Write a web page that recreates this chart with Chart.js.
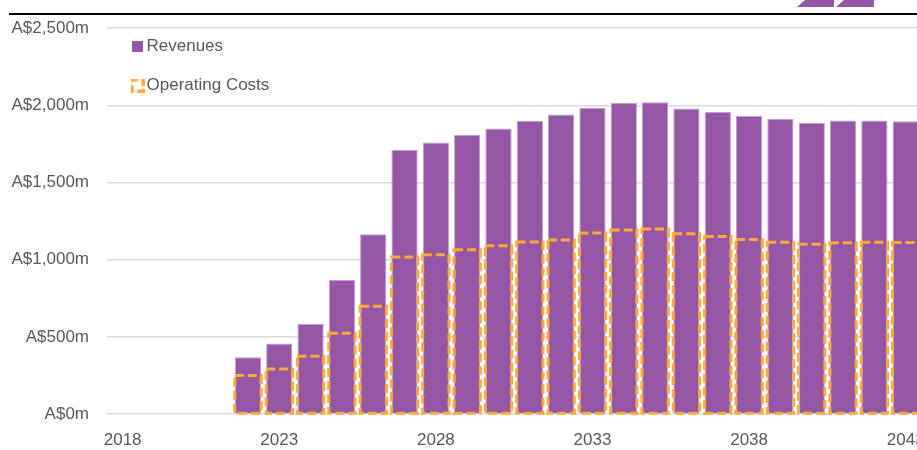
<!DOCTYPE html>
<html>
<head>
<meta charset="utf-8">
<script src="https://cdn.jsdelivr.net/npm/chart.js@4.4.1/dist/chart.umd.min.js"></script>
<style>
  html, body { margin: 0; padding: 0; background: #fff; width: 917px; height: 450px; overflow: hidden; }
  #wrap { position: absolute; left: 0; top: 0; width: 1000px; height: 450px; }
</style>
</head>
<body>
<div id="wrap"><canvas id="c" width="1000" height="450"></canvas></div>
<script>
// ---- data ----
const years = ['2018','2019','2020','2021','2022','2023','2024','2025','2026','2027','2028','2029','2030','2031',
               '2032','2033','2034','2035','2036','2037','2038','2039','2040','2041','2042','2043','2044','2045'];
const revenues = [null, null, null, null, 367, 457, 585, 870, 1165, 1710, 1760, 1810, 1850, 1900,
                  1940, 1985, 2015, 2020, 1980, 1957, 1932, 1912, 1885, 1902, 1902, 1897, null, null];
const operatingCosts = [null, null, null, null, 250, 292, 374, 524, 698, 1018, 1032, 1065, 1090, 1115,
                        1128, 1173, 1193, 1198, 1168, 1151, 1131, 1113, 1100, 1110, 1113, 1111, null, null];
const xTickLabels = ['2018','2023','2028','2033','2038','2043'];
const yTickValues = [0, 500, 1000, 1500, 2000, 2500];
const seriesNames = ['Revenues', 'Operating Costs'];

// ---- styles ----
const PURPLE = '#9656a6';
const ORANGE = '#fbaa36';
const TEXT = '#595959';
const FONT = "'Liberation Sans', Arial, sans-serif";

// legend icons
const revIcon = document.createElement('canvas');
revIcon.width = 11; revIcon.height = 11;
(function(){ const g = revIcon.getContext('2d'); g.fillStyle = PURPLE; g.fillRect(0,0,11,11); })();
const costIcon = document.createElement('canvas');
costIcon.width = 14; costIcon.height = 14;
(function(){ const g = costIcon.getContext('2d'); g.strokeStyle = ORANGE; g.lineWidth = 3; g.setLineDash([8,3]); g.lineDashOffset = 2; g.strokeRect(1.5,1.5,11,11); })();

const dashedBars = {
  id: 'dashedBars',
  afterDatasetsDraw(chart) {
    const meta = chart.getDatasetMeta(1);
    const ctx = chart.ctx;
    ctx.save();
    ctx.strokeStyle = ORANGE;
    ctx.lineWidth = 3;
    ctx.setLineDash([9, 4]);
    meta.data.forEach((el, i) => {
      if (operatingCosts[i] == null) return;
      const p = el.getProps(['x', 'y', 'base', 'width'], true);
      ctx.strokeRect(p.x - p.width / 2, p.y, p.width, p.base - p.y);
    });
    ctx.restore();
  }
};

const decor = {
  id: 'decor',
  afterDraw(chart) {
    const ctx = chart.ctx;
    ctx.save();
    ctx.fillStyle = '#000';
    ctx.fillRect(9, 13, 1000, 2);
    ctx.fillStyle = PURPLE;
    ctx.beginPath();
    ctx.moveTo(805, 0); ctx.lineTo(834, 0); ctx.lineTo(834, 7); ctx.lineTo(797, 7); ctx.closePath();
    ctx.fill();
    ctx.beginPath();
    ctx.moveTo(844, 0); ctx.lineTo(874, 0); ctx.lineTo(874, 7); ctx.lineTo(836, 7); ctx.closePath();
    ctx.fill();
    ctx.restore();
  }
};

const legendPlace = {
  id: 'legendPlace',
  afterUpdate(chart) {
    const lg = chart.legend;
    if (!lg) return;
    lg.left = 115; lg.right = 500;
    lg.top = 16; lg.bottom = 400;
  }
};

new Chart(document.getElementById('c'), {
  type: 'bar',
  data: {
    labels: years,
    datasets: [
      {
        label: seriesNames[0],
        data: revenues,
        backgroundColor: PURPLE,
        borderColor: '#c4a0ce',
        borderWidth: 1,
        grouped: false,
        barPercentage: 0.84,
        categoryPercentage: 1,
        order: 2
      },
      {
        label: seriesNames[1],
        data: operatingCosts,
        backgroundColor: 'rgba(0,0,0,0)',
        borderWidth: 0,
        grouped: false,
        barPercentage: 0.84,
        categoryPercentage: 1,
        order: 1
      }
    ]
  },
  options: {
    responsive: false,
    animation: false,
    devicePixelRatio: 1,
    layout: { padding: { top: 26, left: 0, right: 16, bottom: 0 } },
    plugins: {
      tooltip: { enabled: false },
      legend: {
        position: 'chartArea',
        align: 'start',
        labels: {
          usePointStyle: true,
          pointStyleWidth: 1,
          padding: 22,
          color: TEXT,
          font: { family: FONT, size: 17 },
          generateLabels() {
            return [
              { text: seriesNames[0], pointStyle: revIcon, fillStyle: PURPLE, strokeStyle: PURPLE, lineWidth: 0, hidden: false, datasetIndex: 0, fontColor: TEXT },
              { text: seriesNames[1], pointStyle: costIcon, fillStyle: ORANGE, strokeStyle: ORANGE, lineWidth: 0, hidden: false, datasetIndex: 1, fontColor: TEXT }
            ];
          }
        }
      }
    },
    scales: {
      x: {
        type: 'category',
        offset: true,
        grid: { display: false, drawTicks: false },
        border: { display: false },
        ticks: {
          autoSkip: false,
          maxRotation: 0,
          padding: 16,
          color: TEXT,
          font: { family: FONT, size: 17 },
          callback(v, i) { return xTickLabels.includes(years[i]) ? years[i] : ''; }
        },
        afterFit(s) { s.height = 36; }
      },
      y: {
        min: 0,
        max: 2500,
        grid: { color: '#dadada', lineWidth: 1.5, drawTicks: false },
        border: { display: false },
        afterBuildTicks(s) { s.ticks = yTickValues.map(v => ({ value: v })); },
        ticks: {
          padding: 18,
          color: TEXT,
          font: { family: FONT, size: 17 },
          callback(v) { return 'A$' + Number(v).toLocaleString('en-US') + 'm'; }
        },
        afterFit(s) { s.width = 107; }
      }
    }
  },
  plugins: [dashedBars, decor, legendPlace]
});
</script>
</body>
</html>
